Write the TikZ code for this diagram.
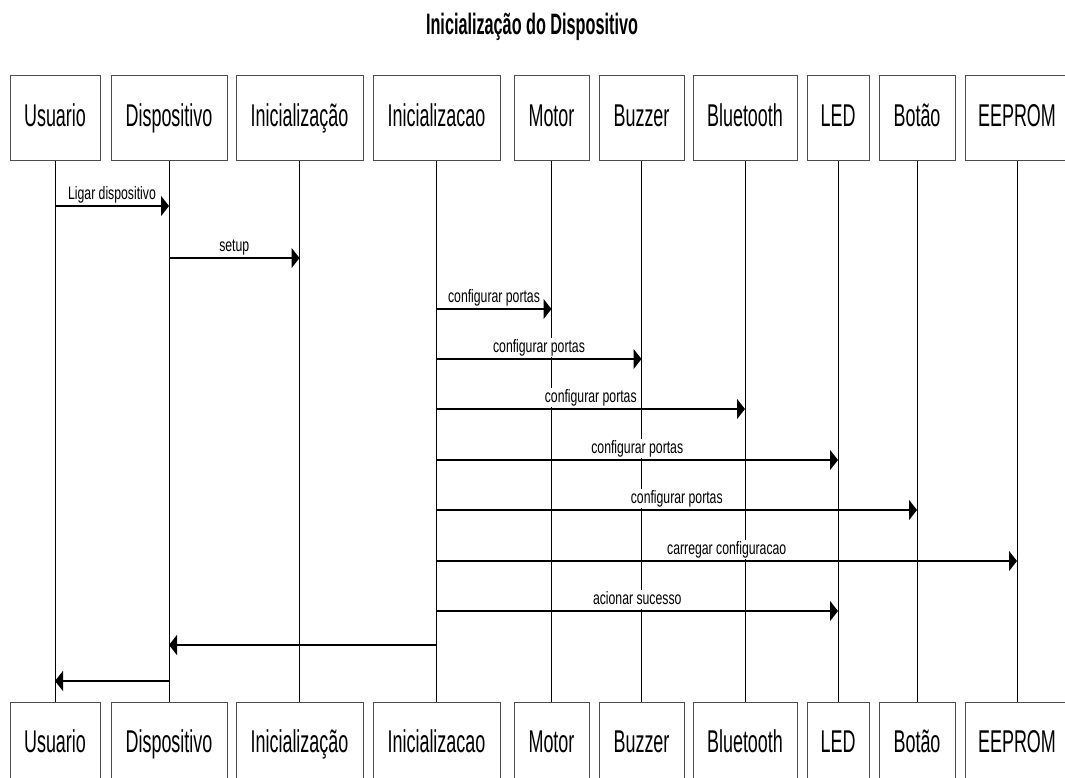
\documentclass[tikz,border=0pt]{standalone}
\usepackage{fontspec}
\setmainfont{Liberation Sans}
\newfontfamily\boxfont[FakeStretch=0.57]{Liberation Sans}
\newfontfamily\titlefont[FakeStretch=0.55]{Liberation Sans}
\newfontfamily\msgfont[FakeStretch=0.68]{Liberation Sans}
\usetikzlibrary{arrows.meta}

\begin{document}
\begin{tikzpicture}[x=1pt,y=-1pt,
    actor/.style={draw=black!70,line width=1pt,minimum height=85pt,inner sep=0pt,
      font=\boxfont\fontsize{31.5}{36}\selectfont,text height=22pt,text depth=6.5pt},
    life/.style={line width=0.9pt},
    msg/.style={line width=1.6pt,-{Triangle[length=8pt,width=20pt]}},
    lbl/.style={fill=white,inner sep=1.5pt,font=\msgfont\fontsize{18}{20}\selectfont,
      text height=13pt,text depth=3.5pt,yshift=1pt}]
  \useasboundingbox (0,0) rectangle (1065,778);
  \clip (0,0) rectangle (1065,778);
  \fill[white] (0,0) rectangle (1065,778);

  \node[font=\titlefont\bfseries\fontsize{29.5}{34}\selectfont,anchor=base] (titulo) at (532,35)
    {Inicialização do Dispositivo};

  % participantes (em cima)
  \node[actor,minimum width=90pt] (usuario) at (55,118.5) {Usuario};
  \node[actor,minimum width=116pt] (dispositivo) at (169,118.5) {Dispositivo};
  \node[actor,minimum width=127pt] (inicA) at (299.5,118.5) {Inicialização};
  \node[actor,minimum width=127pt] (inicB) at (436.5,118.5) {Inicializacao};
  \node[actor,minimum width=75pt] (motor) at (551.5,118.5) {Motor};
  \node[actor,minimum width=85pt] (buzzer) at (641.5,118.5) {Buzzer};
  \node[actor,minimum width=104pt] (bluetooth) at (745,118.5) {Bluetooth};
  \node[actor,minimum width=62pt] (led) at (838,118.5) {LED};
  \node[actor,minimum width=76pt] (botao) at (917,118.5) {Botão};
  \node[actor,minimum width=104pt] (eeprom) at (1017,118.5) {EEPROM};

  % participantes (em baixo)
  \node[actor,minimum width=90pt] (usuarioB) at (55,744.5) {Usuario};
  \node[actor,minimum width=116pt] (dispositivoB) at (169,744.5) {Dispositivo};
  \node[actor,minimum width=127pt] (inicAB) at (299.5,744.5) {Inicialização};
  \node[actor,minimum width=127pt] (inicBB) at (436.5,744.5) {Inicializacao};
  \node[actor,minimum width=75pt] (motorB) at (551.5,744.5) {Motor};
  \node[actor,minimum width=85pt] (buzzerB) at (641.5,744.5) {Buzzer};
  \node[actor,minimum width=104pt] (bluetoothB) at (745,744.5) {Bluetooth};
  \node[actor,minimum width=62pt] (ledB) at (838,744.5) {LED};
  \node[actor,minimum width=76pt] (botaoB) at (917,744.5) {Botão};
  \node[actor,minimum width=104pt] (eepromB) at (1017,744.5) {EEPROM};

  % linhas de vida
  \begin{scope}[life]
    \draw (usuario) -- (usuarioB);
    \draw (dispositivo) -- (dispositivoB);
    \draw (inicA) -- (inicAB);
    \draw (inicB) -- (inicBB);
    \draw (motor) -- (motorB);
    \draw (buzzer) -- (buzzerB);
    \draw (bluetooth) -- (bluetoothB);
    \draw (led) -- (ledB);
    \draw (botao) -- (botaoB);
    \draw (eeprom) -- (eepromB);
  \end{scope}

  % alturas das mensagens
  \coordinate (m1) at (0,206);
  \coordinate (m2) at (0,258);
  \coordinate (m3) at (0,309);
  \coordinate (m4) at (0,359);
  \coordinate (m5) at (0,409);
  \coordinate (m6) at (0,460);
  \coordinate (m7) at (0,510);
  \coordinate (m8) at (0,561);
  \coordinate (m9) at (0,611);
  \coordinate (m10) at (0,645);
  \coordinate (m11) at (0,681);

  % mensagens
  \draw[msg] (usuario |- m1) -- node[lbl,above] {Ligar dispositivo} (dispositivo |- m1);
  \draw[msg] (dispositivo |- m2) -- node[lbl,above] {setup} (inicA |- m2);
  \draw[msg] (inicB |- m3) -- node[lbl,above] {configurar portas} (motor |- m3);
  \draw[msg] (inicB |- m4) -- node[lbl,above] {configurar portas} (buzzer |- m4);
  \draw[msg] (inicB |- m5) -- node[lbl,above] {configurar portas} (bluetooth |- m5);
  \draw[msg] (inicB |- m6) -- node[lbl,above] {configurar portas} (led |- m6);
  \draw[msg] (inicB |- m7) -- node[lbl,above] {configurar portas} (botao |- m7);
  \draw[msg] (inicB |- m8) -- node[lbl,above] {carregar configuracao} (eeprom |- m8);
  \draw[msg] (inicB |- m9) -- node[lbl,above] {acionar sucesso} (led |- m9);
  \draw[msg] (inicB |- m10) -- (dispositivo |- m10);
  \draw[msg] (dispositivo |- m11) -- (usuario |- m11);
\end{tikzpicture}
\end{document}
